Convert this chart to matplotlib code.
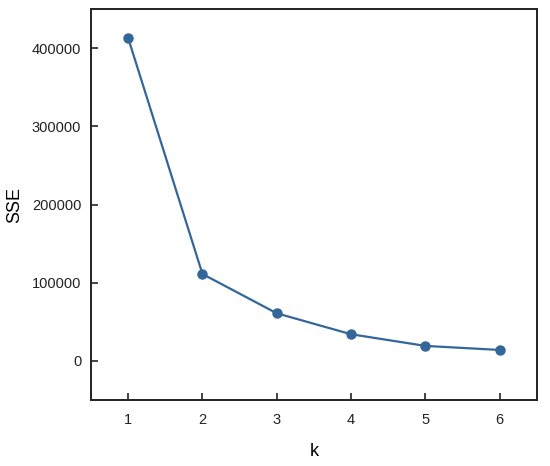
import numpy as np
from matplotlib import pyplot as plt

plt.rcParams['font.family'] = ['Liberation Sans', 'DejaVu Sans']

k = [1, 2, 3, 4, 5, 6]
sse = [412800, 111100, 60900, 34100, 19200, 14000]

fig = plt.figure(figsize=(5.5, 4.66), dpi=100)
ax = fig.add_axes([0.1655, 0.1416, 0.976 - 0.1655, 0.9807 - 0.1416])

ax.plot(k, sse, color='#336699', linewidth=1.6, marker='o', markersize=6.5)

ax.set_xlim(0.5, 6.5)
ax.set_ylim(-50000, 450000)
ax.set_xticks(k)
ax.set_yticks([0, 100000, 200000, 300000, 400000])

ax.tick_params(axis='both', which='major', direction='in', length=5, width=1.2,
               labelsize=10.5, colors='#222222')
ax.tick_params(axis='x', pad=9)
ax.tick_params(axis='y', pad=7)
for s in ax.spines.values():
    s.set_linewidth(1.4)
    s.set_color('#222222')

ax.set_xlabel('k', fontsize=13, labelpad=12)
ax.set_ylabel('SSE', fontsize=13, labelpad=6)

fig.savefig('out.png', dpi=100)
